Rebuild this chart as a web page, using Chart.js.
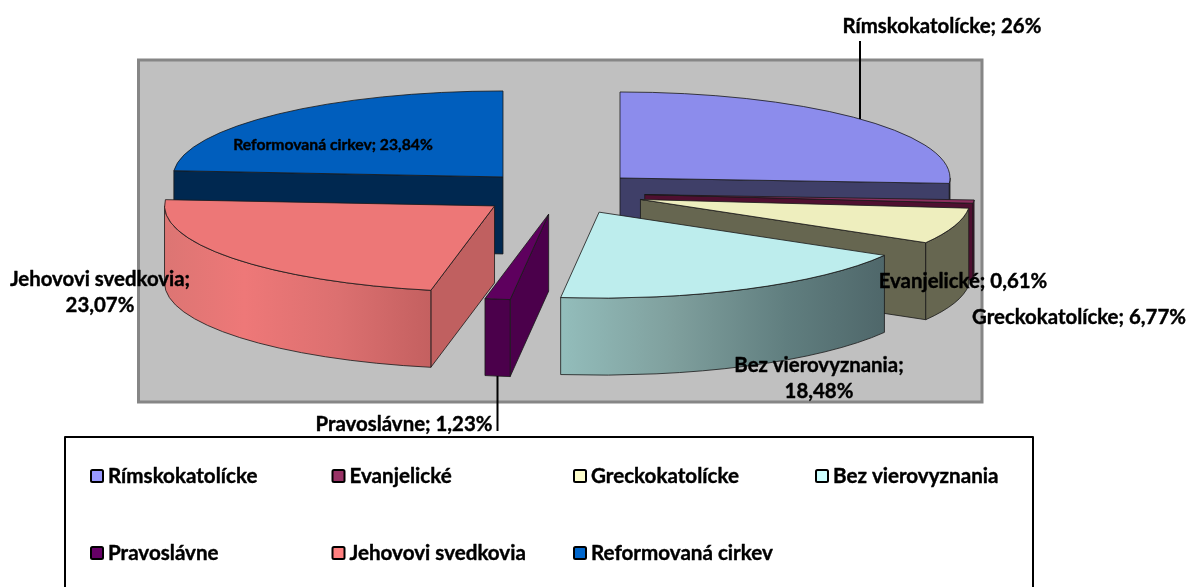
<!DOCTYPE html>
<html>
<head>
<meta charset="utf-8">
<style>html,body{margin:0;padding:0;background:#fff;overflow:hidden}canvas{display:block}</style>
<script src="https://cdn.jsdelivr.net/npm/chart.js@4/dist/chart.umd.min.js"></script>
</head>
<body>
<canvas id="c" width="1188" height="587"></canvas>
<script>
const categories = ['Rímskokatolícke','Evanjelické','Greckokatolícke','Bez vierovyznania','Pravoslávne','Jehovovi svedkovia','Reformovaná cirkev'];
const percentages = [26, 0.61, 6.77, 18.48, 1.23, 23.07, 23.84];

const topColors = ['#8C8CEC','#8C2E5E','#EEEEBE','#BDEDED','#5E005E','#ED7777','#005EBD'];
const legendColors = ['#9999FF','#993366','#FFFFCC','#CCFFFF','#660066','#FF8080','#0066CC'];
const cutFaceColors = ['#3F3F68','#4F0F30','#666650','#50686B','#4B004B','#C06060','#002850'];
const curvedStops = [
  [[0,'#3F3F68'],[1,'#3F3F68']],
  [[0,'#5A1238'],[1,'#5A1238']],
  [[0,'#666650'],[1,'#666650']],
  [[0,'#93BDBB'],[0.35,'#7F9F9D'],[0.7,'#607E7F'],[1,'#4F676A']],
  [[0,'#4B004B'],[1,'#4B004B']],
  [[0,'#DC7573'],[0.3,'#EE7878'],[0.65,'#DC7070'],[1,'#C46060']],
  [[0,'#002850'],[1,'#002850']]
];
const paintOrder = [6,0,1,2,3,5,4];
const perspectiveNudge = [0,2.5,2,2.5,2,1,0];

const view = {cx:559.5, cy:192.8, rx:330, ry:86, explode:83, depth:77};
const panel = {x:138.5, y:60, w:843.5, h:342};
const legendBox = {x:65, y:437, w:968, h:170};
const legendCols = [90,331.5,573,815];
const legendRows = [469,546];
const FONT = '"Lato", sans-serif';
const labelSize = 20.4, legendSize = 20.6, smallSize = 15.7;

// centre x, first line centre y, font size
const labelSpots = [
  [942,26,labelSize],[963,281,labelSize],[1079,317,labelSize],[819,365,labelSize],[404,424,labelSize],[100,279,labelSize],[333,145,smallSize]
];
const wrapped = [false,false,false,true,false,true,false];
const leaders = [[860,41,860,119],[497.5,376,497.5,431]];

function fmt(v){ return String(v).replace('.',',') + '%'; }
function heavyText(ctx,t,x,y){
  ctx.lineWidth=0.4; ctx.strokeStyle='#000'; ctx.lineJoin='round';
  ctx.strokeText(t,x,y); ctx.fillText(t,x,y);
}
function apexOf(arc,i){
  const mid = (arc.startAngle + arc.endAngle)/2;
  return {x:view.cx + perspectiveNudge[i] + view.explode*Math.cos(mid), y:view.cy + view.explode*(view.ry/view.rx)*Math.sin(mid)};
}
function outline(ctx){
  ctx.lineWidth = 1; ctx.strokeStyle = 'rgba(25,25,25,0.8)'; ctx.lineJoin='round'; ctx.stroke();
}
function cutFace(ctx, p, ang, color){
  const ex = p.x + view.rx*Math.cos(ang), ey = p.y + view.ry*Math.sin(ang);
  ctx.beginPath();
  ctx.moveTo(p.x,p.y); ctx.lineTo(ex,ey); ctx.lineTo(ex,ey+view.depth); ctx.lineTo(p.x,p.y+view.depth); ctx.closePath();
  ctx.fillStyle = color; ctx.fill(); outline(ctx);
}
function drawSlice(chart, arc, i){
  const ctx = chart.ctx, p = apexOf(arc,i), a0 = arc.startAngle, a1 = arc.endAngle;
  if (Math.cos(a0) < -1e-6) cutFace(ctx,p,a0,cutFaceColors[i]);
  if (Math.cos(a1) > 1e-6) cutFace(ctx,p,a1,cutFaceColors[i]);
  const lo = Math.max(a0,0), hi = Math.min(a1,Math.PI);
  if (hi > lo){
    const xa = p.x+view.rx*Math.cos(lo), xb = p.x+view.rx*Math.cos(hi);
    const g = ctx.createLinearGradient(Math.min(xa,xb),0,Math.max(xa,xb),0);
    curvedStops[i].forEach(s=>g.addColorStop(s[0],s[1]));
    ctx.beginPath();
    ctx.ellipse(p.x,p.y,view.rx,view.ry,0,lo,hi);
    ctx.ellipse(p.x,p.y+view.depth,view.rx,view.ry,0,hi,lo,true);
    ctx.closePath();
    ctx.fillStyle = g; ctx.fill(); outline(ctx);
  }
  ctx.save();
  const s = view.rx/arc.outerRadius;
  ctx.translate(p.x,p.y);
  ctx.scale(s, s*view.ry/view.rx);
  ctx.translate(-arc.x,-arc.y);
  arc.draw(ctx);
  ctx.restore();
  ctx.beginPath();
  ctx.moveTo(p.x,p.y);
  ctx.ellipse(p.x,p.y,view.rx,view.ry,0,a0,a1);
  ctx.closePath();
  outline(ctx);
}

const pie3d = {
  id:'pie3d',
  beforeDatasetDraw(chart){
    const ctx = chart.ctx;
    ctx.save();
    ctx.fillStyle='#C0C0C0'; ctx.fillRect(panel.x,panel.y,panel.w,panel.h);
    ctx.strokeStyle='#868686'; ctx.lineWidth=3; ctx.strokeRect(panel.x,panel.y,panel.w,panel.h);
    const arcs = chart.getDatasetMeta(0).data;
    paintOrder.forEach(i=>drawSlice(chart,arcs[i],i));
    ctx.restore();
    return false;
  },
  afterDatasetsDraw(chart){
    const ctx = chart.ctx;
    ctx.save();
    ctx.strokeStyle='#000'; ctx.lineWidth=2;
    leaders.forEach(l=>{ctx.beginPath();ctx.moveTo(l[0],l[1]);ctx.lineTo(l[2],l[3]);ctx.stroke();});
    ctx.fillStyle='#000'; ctx.textAlign='center'; ctx.textBaseline='middle';
    categories.forEach((name,i)=>{
      const [x,y,size] = labelSpots[i];
      ctx.font = `bold ${size}px ${FONT}`;
      if (wrapped[i]){
        heavyText(ctx,name+';',x,y);
        heavyText(ctx,fmt(percentages[i]),x,y+26);
      } else {
        heavyText(ctx,name+'; '+fmt(percentages[i]),x,y);
      }
    });
    ctx.fillStyle='#fff'; ctx.fillRect(legendBox.x,legendBox.y,legendBox.w,legendBox.h);
    ctx.strokeStyle='#000'; ctx.lineWidth=2; ctx.strokeRect(legendBox.x,legendBox.y,legendBox.w,legendBox.h);
    ctx.textAlign='left'; ctx.font=`bold ${legendSize}px ${FONT}`;
    categories.forEach((name,i)=>{
      const x = legendCols[i%4], y = legendRows[Math.floor(i/4)];
      ctx.fillStyle=legendColors[i];
      ctx.beginPath(); ctx.roundRect(x+1,y+1,12,12,1.5); ctx.fill();
      ctx.strokeStyle='#000'; ctx.lineWidth=2; ctx.stroke();
      ctx.fillStyle='#000';
      heavyText(ctx,name,x+18,y+7);
    });
    ctx.restore();
  }
};

new Chart(document.getElementById('c'),{
  type:'pie',
  data:{labels:categories,datasets:[{data:percentages,backgroundColor:topColors,borderWidth:0}]},
  options:{
    responsive:false,animation:false,
    plugins:{legend:{display:false},tooltip:{enabled:false}}
  },
  plugins:[pie3d]
});
</script>
</body>
</html>
